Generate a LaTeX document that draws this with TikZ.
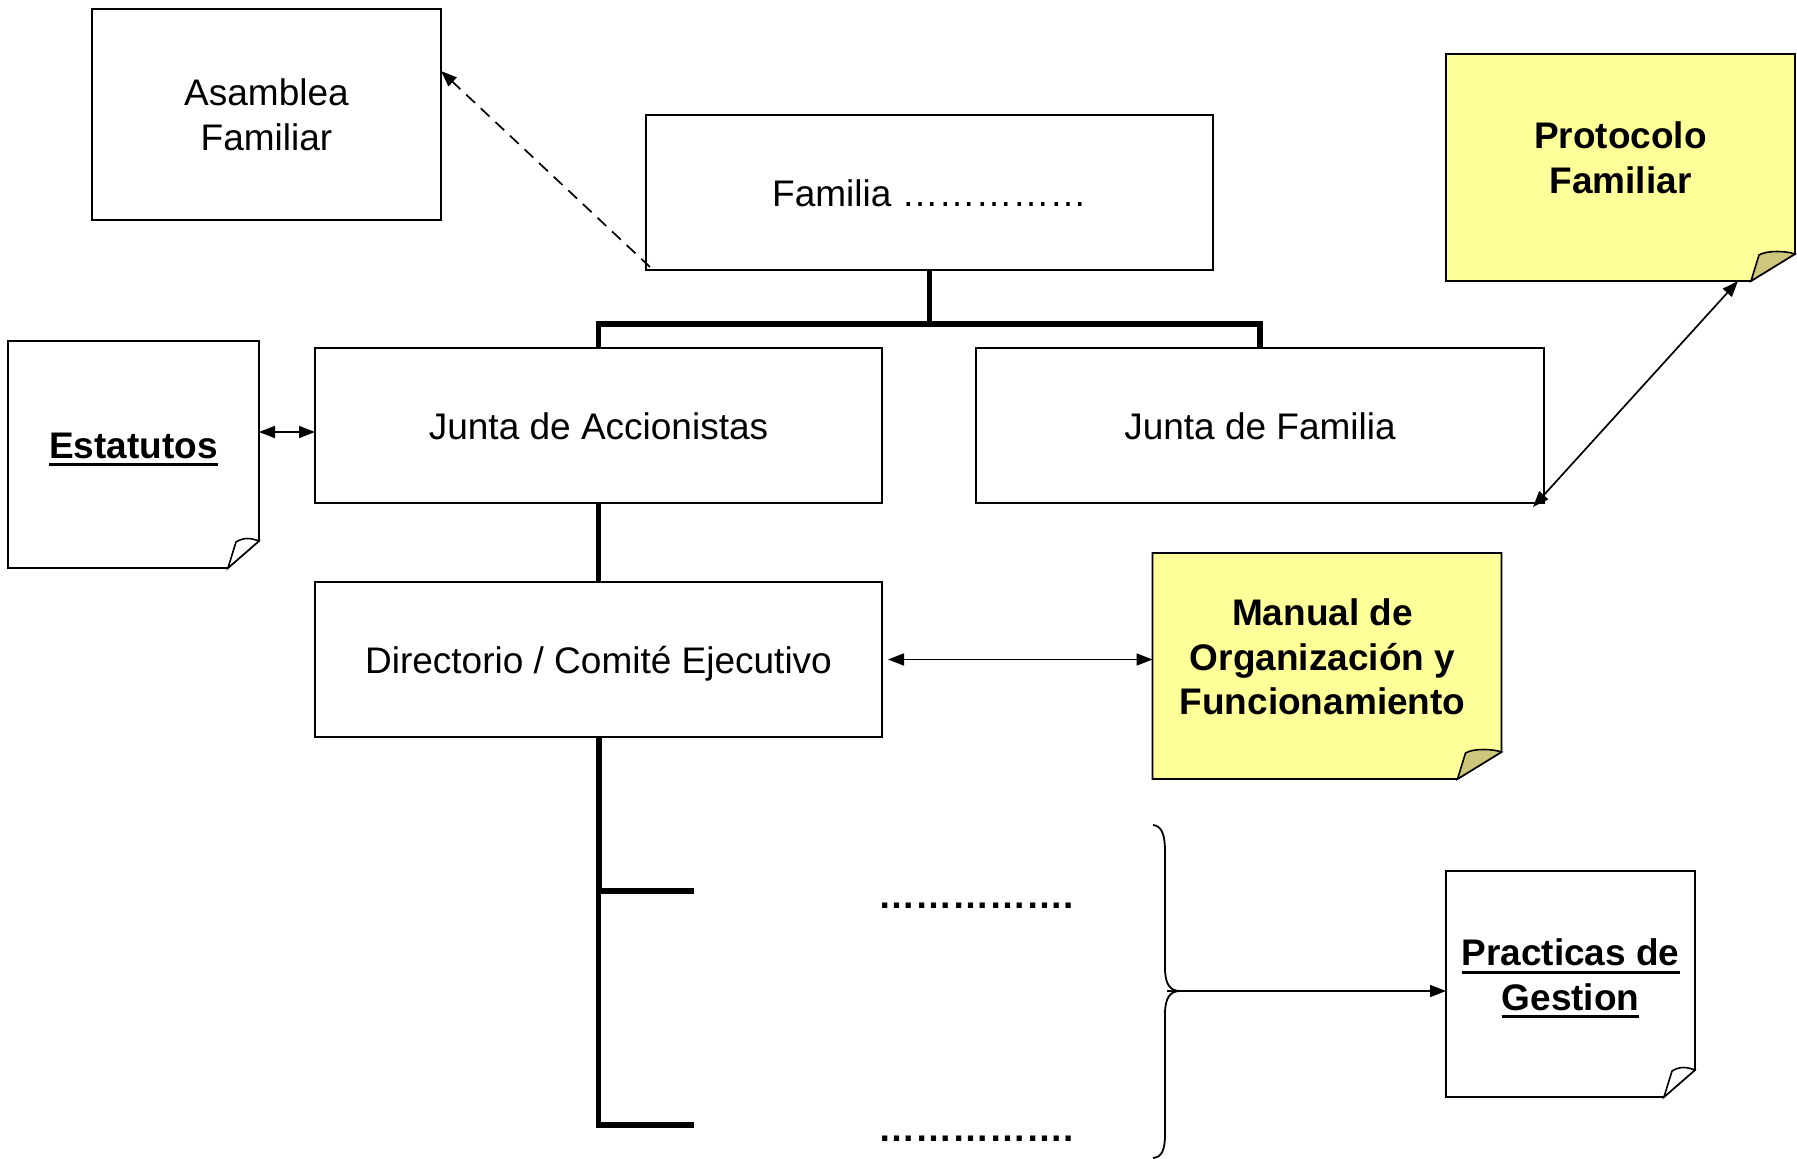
\documentclass[tikz,border=0pt]{standalone}
\usepackage{fontspec}
\setmainfont{Liberation Sans}
\usetikzlibrary{arrows.meta,calc}
\definecolor{noteyellow}{RGB}{255,255,153}
\definecolor{flapyellow}{RGB}{204,199,122}
\newcommand\ulbox[1]{\setbox0\hbox{#1}\rlap{\rule[-8.3pt]{\wd0}{3.3pt}}\box0}
\newcommand\foldnote[4]{%
  \path[noteline, fill=#2] (#1.north west) -- (#1.north east) -- ($(#1.south east)+(0,-27)$) -- ($(#1.south east)+(-#4,0)$) -- (#1.south west) -- cycle;
  \path[noteline, fill=#3] ($(#1.south east)+(-#4,0)$) -- ($(#1.south east)+(-#4+8,-26)$) .. controls ($(#1.south east)+(-#4+16,-31)$) and ($(#1.south east)+(-8,-30)$) .. ($(#1.south east)+(0,-27)$) -- cycle;
}
\begin{document}
\begin{tikzpicture}[x=1pt,y=-1pt,
  bx/.style={draw, line width=1.6pt, inner sep=0pt, outer sep=0pt, align=center, font=\fontsize{37}{45}\selectfont},
  one/.style={text height=27pt, text depth=0pt},
  nt/.style={inner sep=0pt, outer sep=0pt},
  ntext/.style={align=center, inner sep=0pt, font=\fontsize{37}{44.5}\selectfont\bfseries},
  noteline/.style={draw, line width=1.6pt, line join=miter},
  org/.style={line width=5.5pt},
  arr/.style={line width=1.7pt, -{Triangle[length=16pt,width=12pt]}},
  dbl/.style={line width=1.7pt, {Triangle[length=16pt,width=12pt]}-{Triangle[length=16pt,width=12pt]}},
  dotsty/.style={inner sep=0pt, font=\fontsize{37}{44}\selectfont\bfseries}
]
\useasboundingbox (0,0) rectangle (1797,1159);

% main boxes
\node[bx, minimum width=349, minimum height=211] (asm) at (266.5,114.5) {Asamblea\\Familiar};
\node[bx, one, minimum width=567, minimum height=155] (fam) at (929.5,192.5) {Familia \char"2026\char"2026\char"2026\char"2026\char"2026};
\node[bx, one, minimum width=567, minimum height=155] (acc) at (598.5,425.5) {Junta de Accionistas};
\node[bx, one, minimum width=568, minimum height=155] (jf) at (1260,425.5) {Junta de Familia};
\node[bx, one, minimum width=567, minimum height=155] (dir) at (598.5,659.5) {Directorio / Comité Ejecutivo};

% notes (shapes)
\node[nt, minimum width=251, minimum height=227] (est) at (133.5,454.5) {};
\node[nt, minimum width=349, minimum height=227] (prot) at (1620.5,167.5) {};
\node[nt, minimum width=349, minimum height=226] (man) at (1327,666) {};
\node[nt, minimum width=249, minimum height=226] (prac) at (1570.5,984) {};
\foldnote{est}{white}{white}{31}
\foldnote{prot}{noteyellow}{flapyellow}{44}
\foldnote{man}{noteyellow}{flapyellow}{44}
\foldnote{prac}{white}{white}{31}

% note texts
\node[ntext] (estT) at ($(est.center)+(0,-5)$) {\ulbox{Estatutos}};
\node[ntext] (protT) at ($(prot.center)+(0,-9.5)$) {Protocolo\\Familiar};
\node[ntext] (manT) at ($(man.center)+(-4.5,-9)$) {Manual de\\Organización y\\Funcionamiento};
\node[ntext] (pracT) at ($(prac.center)+(0,-5.5)$) {\ulbox{Practicas de}\\\ulbox{Gestion}};

% org lines
\draw[org] (fam.south) -- ++(0,54);
\draw[org, line join=miter] (acc.north) -- ++(0,-24) -| (jf.north);
\draw[org] (acc.south) -- (dir.north);
\draw[line width=6pt] (dir.south) -- ++(0,154) coordinate (br1);
\draw[line width=4.5pt] (br1) -- ++(0,234) coordinate (br2);
\draw[org] ($(br1)+(-2.5,0)$) -- ++(97.5,0) coordinate (br1e);
\draw[org] ($(br2)+(-2.25,0)$) -- ++(97.25,0) coordinate (br2e);

% dots
\node[dotsty, anchor=base west] (d1) at (878,908) {\char"2026\char"2026\char"2026\char"2026\char"2026.};
\node[dotsty, anchor=base west] (d2) at (878,1141) {\char"2026\char"2026\char"2026\char"2026\char"2026.};

% connectors
\draw[arr, dash pattern=on 12pt off 8pt] ($(fam.south west)+(4,-3)$) -- ($(asm.north east)+(0,62)$);
\draw[dbl] ($(est.north east)+(0,91)$) -- ($(acc.north west)+(0,84)$);
\draw[dbl, shorten <=6pt] (dir.east) -- (man.west |- dir.east);
\draw[dbl] ($(prot.south east)+(-57,0)$) -- ($(jf.south east)+(-11,4)$);

% brace
\draw[line width=1.8pt] (1153,825) .. controls (1162,826) and (1165,835) .. (1165,852) -- (1165,968) .. controls (1165,984) and (1170,991) .. (1180,991) .. controls (1170,991) and (1165,998) .. (1165,1014) -- (1165,1134) .. controls (1165,1150) and (1162,1157) .. (1153,1158);
\coordinate (bs) at (1167,991);
\draw[arr] (bs) -- (prac.west |- bs);
\end{tikzpicture}
\end{document}
